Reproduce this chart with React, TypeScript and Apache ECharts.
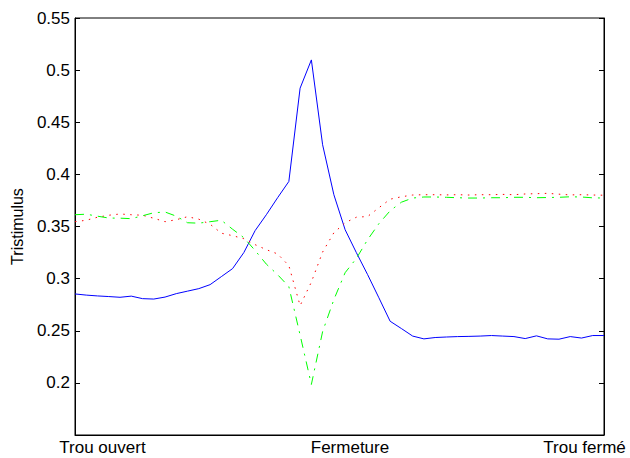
import React, { useEffect, useRef } from "react";
import * as echarts from "echarts";

// Tristimulus values sampled along the transition (48 samples)
const blueValues = [
  0.2853, 0.2842, 0.2834, 0.2828, 0.2821, 0.2832, 0.2808, 0.2804, 0.2823, 0.2856,
  0.288, 0.2904, 0.2942, 0.3019, 0.3096, 0.3250, 0.346, 0.3613, 0.3776, 0.3932,
  0.4827, 0.5098, 0.4284, 0.3805, 0.3469, 0.3249, 0.3038, 0.2816, 0.2591, 0.2521,
  0.2449, 0.2422, 0.2435, 0.244, 0.2444, 0.2446, 0.2449, 0.2454, 0.2449, 0.2444,
  0.2425, 0.2451, 0.2422, 0.2419, 0.2444, 0.243, 0.2454, 0.2454,
];

const redValues = [
  0.3546, 0.356, 0.3589, 0.3608, 0.362, 0.3613, 0.3608, 0.3579, 0.3546, 0.3565,
  0.3594, 0.357, 0.3522, 0.3436, 0.3412, 0.3383, 0.3326, 0.3278, 0.3237, 0.3125,
  0.2741, 0.2967, 0.3255, 0.344, 0.3536, 0.3589, 0.3596, 0.368, 0.3762, 0.3785,
  0.3802, 0.3805, 0.3805, 0.3803, 0.3805, 0.3802, 0.3805, 0.3805, 0.3808, 0.3805,
  0.3812, 0.3815, 0.3818, 0.381, 0.3803, 0.3805, 0.3802, 0.38,
];

const greenValues = [
  0.3613, 0.3618, 0.3599, 0.3581, 0.358, 0.3575, 0.3603, 0.3632, 0.3639, 0.3599,
  0.3536, 0.3532, 0.3546, 0.356, 0.3474, 0.3393, 0.327, 0.3139, 0.3038, 0.2923,
  0.2459, 0.1985, 0.2492, 0.2799, 0.3057, 0.3194, 0.3374, 0.3527, 0.3651, 0.3733,
  0.3773, 0.3783, 0.3783, 0.378, 0.3776, 0.3773, 0.3773, 0.3776, 0.3776, 0.378,
  0.378, 0.3776, 0.3778, 0.378, 0.3785, 0.3783, 0.3775, 0.3773,
];

// Phase labels along the horizontal axis and where they sit (sample index)
const phaseLabels = ["Trou ouvert", "Fermeture", "Trou fermé"];
const phasePositions = [2.44, 24.43, 45.27];

const yTicks = { min: 0.15, max: 0.55, interval: 0.05 };

const FONT = "'Liberation Sans', Arial, Helvetica, sans-serif";

const toPairs = (vals: number[]) => vals.map((v, i) => [i, v]);

export default function App() {
  const ref = useRef<HTMLDivElement>(null);

  useEffect(() => {
    if (!ref.current) return;
    const chart = echarts.init(ref.current, undefined, { renderer: "svg" });
    const last = blueValues.length - 1;

    const yLabel = (v: number) =>
      Math.abs(v - yTicks.min) < 1e-9 ? "" : String(Number(v.toFixed(2)));

    chart.setOption({
      animation: false,
      backgroundColor: "#ffffff",
      grid: {
        left: 75,
        right: 26,
        top: 18,
        bottom: 23,
        show: true,
        borderColor: "#000",
        borderWidth: 1,
        backgroundColor: "transparent",
      },
      xAxis: {
        type: "value",
        min: 0,
        max: last,
        splitLine: { show: false },
        axisLine: { show: true, lineStyle: { color: "#000", width: 1 } },
        axisTick: { show: false },
        axisLabel: {
          customValues: phasePositions,
          formatter: (v: number) => {
            let best = 0;
            phasePositions.forEach((p, k) => {
              if (Math.abs(p - v) < Math.abs(phasePositions[best] - v)) best = k;
            });
            return phaseLabels[best];
          },
          color: "#000",
          fontSize: 17,
          fontFamily: FONT,
          margin: 4,
        },
      },
      yAxis: [
        {
          type: "value",
          min: yTicks.min,
          max: yTicks.max,
          interval: yTicks.interval,
          name: "Tristimulus",
          nameLocation: "middle",
          nameGap: 50,
          nameTextStyle: { color: "#000", fontSize: 16, fontFamily: FONT },
          splitLine: { show: false },
          axisLine: { show: true, lineStyle: { color: "#000", width: 1 } },
          axisTick: { show: true, inside: true, length: 5, lineStyle: { color: "#000" } },
          axisLabel: {
            formatter: yLabel,
            color: "#000",
            fontSize: 17,
            fontFamily: FONT,
            margin: 5,
          },
        },
        {
          type: "value",
          position: "right",
          min: yTicks.min,
          max: yTicks.max,
          interval: yTicks.interval,
          splitLine: { show: false },
          axisLine: { show: true, lineStyle: { color: "#000", width: 1 } },
          axisTick: { show: true, inside: true, length: 5, lineStyle: { color: "#000" } },
          axisLabel: { show: false },
        },
      ],
      series: [
        {
          name: "blue",
          type: "line",
          data: toPairs(blueValues),
          showSymbol: false,
          lineStyle: { color: "#0000ff", width: 1, type: "solid" },
        },
        {
          name: "red",
          type: "line",
          data: toPairs(redValues),
          showSymbol: false,
          lineStyle: { color: "#ff0000", width: 1, type: [1.5, 5.5] },
        },
        {
          name: "green",
          type: "line",
          data: toPairs(greenValues),
          showSymbol: false,
          lineStyle: { color: "#00ff00", width: 1, type: [9, 6, 2, 6] },
        },
      ],
    });

    return () => chart.dispose();
  }, []);

  return (
    <div
      ref={ref}
      style={{ position: "fixed", left: 0, top: 0, width: 630, height: 458 }}
    />
  );
}
